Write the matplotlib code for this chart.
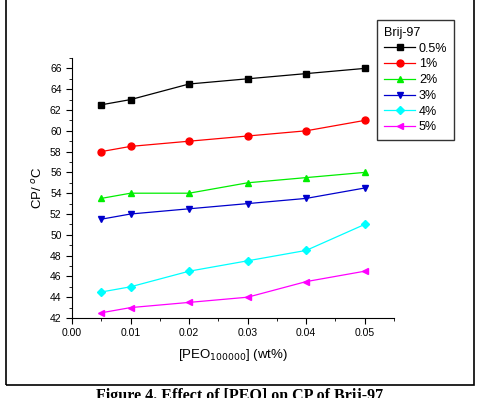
import matplotlib.pyplot as plt
from matplotlib.patches import Rectangle
from matplotlib.ticker import MultipleLocator

plt.rcParams["font.family"] = ["Liberation Sans", "DejaVu Sans"]

# PEO concentration (wt%)
peo = [0.005, 0.01, 0.02, 0.03, 0.04, 0.05]

# cloud point (deg C) for each Brij-97 concentration
cp_05 = [62.5, 63.0, 64.5, 65.0, 65.5, 66.0]
cp_1 = [58.0, 58.5, 59.0, 59.5, 60.0, 61.0]
cp_2 = [53.5, 54.0, 54.0, 55.0, 55.5, 56.0]
cp_3 = [51.5, 52.0, 52.5, 53.0, 53.5, 54.5]
cp_4 = [44.5, 45.0, 46.5, 47.5, 48.5, 51.0]
cp_5 = [42.5, 43.0, 43.5, 44.0, 45.5, 46.5]

series = [
    ("0.5%", cp_05, "black", "s"),
    ("1%", cp_1, "red", "o"),
    ("2%", cp_2, "#00ee00", "^"),
    ("3%", cp_3, "#0000cc", "v"),
    ("4%", cp_4, "cyan", "D"),
    ("5%", cp_5, "magenta", "<"),
]

W, H = 478, 398
fig = plt.figure(figsize=(W / 100, H / 100), dpi=100)

# outer frame around the chart
fig.patches.append(Rectangle((5.5 / W, 1 - 385 / H), 468.5 / W, 390 / H,
                             transform=fig.transFigure, fill=False,
                             edgecolor="black", linewidth=1.2))

ax = fig.add_axes([72 / W, 1 - 318 / H, (394 - 72) / W, (318 - 58) / H])
for label, vals, color, marker in series:
    ms = 4 if marker == "D" else 5
    ax.plot(peo, vals, color=color, marker=marker, markersize=ms,
            linewidth=0.9, label=label)

ax.set_xlim(0, 0.055)
ax.set_ylim(42, 67)
ax.xaxis.set_major_locator(MultipleLocator(0.01))
ax.xaxis.set_minor_locator(MultipleLocator(0.005))
ax.yaxis.set_major_locator(MultipleLocator(2))
ax.yaxis.set_minor_locator(MultipleLocator(1))
ax.xaxis.set_major_formatter(plt.FormatStrFormatter("%.2f"))
ax.spines["top"].set_visible(False)
ax.spines["right"].set_visible(False)
ax.tick_params(which="both", direction="out", labelsize=7.5)
ax.tick_params(which="major", length=4)
ax.tick_params(which="minor", length=2)

ax.set_xlabel("[PEO$_{100000}$] (wt%)", fontsize=9.5, labelpad=6)
ax.set_ylabel("CP/ $^{o}$C", fontsize=9.5)

leg = ax.legend(title="Brij-97", loc="upper left",
                bbox_to_anchor=(377 / W, 1 - 20 / H),
                bbox_transform=fig.transFigure, borderaxespad=0,
                fontsize=9, title_fontsize=9,
                fancybox=False, edgecolor="#333333", framealpha=1,
                handlelength=2.5, handletextpad=0.3, labelspacing=0.3,
                borderpad=0.55)
leg._legend_box.align = "left"
leg.get_frame().set_linewidth(1)

fig.text(240 / W, 1 - 388 / H, "Figure 4. Effect of [PEO] on CP of Brij-97",
         ha="center", va="top", fontsize=11.5, fontweight="bold",
         family=["Liberation Serif", "DejaVu Serif"])

fig.savefig("out.png", dpi=100)
